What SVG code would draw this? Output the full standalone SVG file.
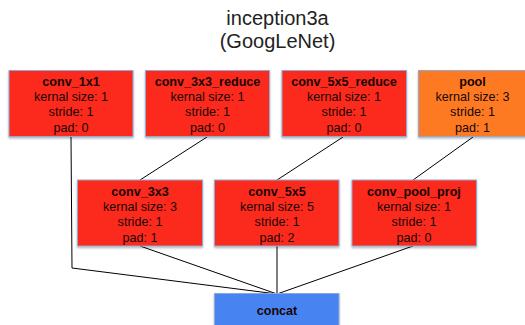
<svg xmlns="http://www.w3.org/2000/svg" width="525" height="325" viewBox="0 0 525 325">
<defs>
<filter id="sh" x="-10%" y="-10%" width="120%" height="130%">
<feDropShadow dx="0" dy="1.5" stdDeviation="1" flood-color="#000" flood-opacity="0.3"/>
</filter>
</defs>
<style>
.box{stroke:#8fa9d6;stroke-width:1;filter:url(#sh)}
.red{fill:#fc2a1c}
.orange{fill:#fd7a21}
.blue{fill:#4784f2}
text{font-family:"Liberation Sans",Arial,sans-serif;font-size:12.6px;fill:#1a0505;text-anchor:middle}
.b{font-weight:bold}
.title{font-size:20px;fill:#222}
.edge{stroke:#000;stroke-width:1;fill:none}
</style>
<rect width="525" height="325" fill="#fff"/>
<text class="title" x="277.5" y="25">inception3a</text>
<text class="title" x="277.5" y="48">(GoogLeNet)</text>
<g id="connectors">
<polyline class="edge" points="71,137 72,268 277,294"/>
<line class="edge" x1="207" y1="137" x2="140" y2="180"/>
<line class="edge" x1="343" y1="137" x2="277" y2="180"/>
<line class="edge" x1="473" y1="137" x2="413" y2="180"/>
<line class="edge" x1="140" y1="246" x2="277" y2="294"/>
<line class="edge" x1="277" y1="246" x2="277" y2="294"/>
<line class="edge" x1="413" y1="246" x2="277" y2="294"/>
</g>
<g id="conv_1x1">
<rect class="box red" x="9" y="70.5" width="124" height="66"/>
<text class="b" x="71" y="86">conv_1x1</text>
<text x="71" y="101">kernal size: 1</text>
<text x="71" y="116">stride: 1</text>
<text x="71" y="132">pad: 0</text>
</g>
<g id="conv_3x3_reduce">
<rect class="box red" x="145.5" y="70.5" width="124" height="66"/>
<text class="b" x="207.5" y="86">conv_3x3_reduce</text>
<text x="207.5" y="101">kernal size: 1</text>
<text x="207.5" y="116">stride: 1</text>
<text x="207.5" y="132">pad: 0</text>
</g>
<g id="conv_5x5_reduce">
<rect class="box red" x="282" y="70.5" width="124.5" height="66"/>
<text class="b" x="344" y="86">conv_5x5_reduce</text>
<text x="344" y="101">kernal size: 1</text>
<text x="344" y="116">stride: 1</text>
<text x="344" y="132">pad: 0</text>
</g>
<g id="pool">
<rect class="box orange" x="418.5" y="70.5" width="124" height="66"/>
<text class="b" x="472.5" y="86">pool</text>
<text x="472.5" y="101">kernal size: 3</text>
<text x="472.5" y="116">stride: 1</text>
<text x="472.5" y="132">pad: 1</text>
</g>
<g id="conv_3x3">
<rect class="box red" x="77.5" y="180" width="125" height="66"/>
<text class="b" x="140" y="195.5">conv_3x3</text>
<text x="140" y="211">kernal size: 3</text>
<text x="140" y="226">stride: 1</text>
<text x="140" y="241.5">pad: 1</text>
</g>
<g id="conv_5x5">
<rect class="box red" x="214.5" y="180" width="124.5" height="66"/>
<text class="b" x="277" y="195.5">conv_5x5</text>
<text x="277" y="211">kernal size: 5</text>
<text x="277" y="226">stride: 1</text>
<text x="277" y="241.5">pad: 2</text>
</g>
<g id="conv_pool_proj">
<rect class="box red" x="352" y="180" width="124.5" height="66"/>
<text class="b" x="414" y="195.5">conv_pool_proj</text>
<text x="414" y="211">kernal size: 1</text>
<text x="414" y="226">stride: 1</text>
<text x="414" y="241.5">pad: 0</text>
</g>
<g id="concat">
<rect class="box blue" x="214.5" y="293.5" width="124.5" height="40"/>
<text class="b" x="277" y="315">concat</text>
</g>
</svg>
